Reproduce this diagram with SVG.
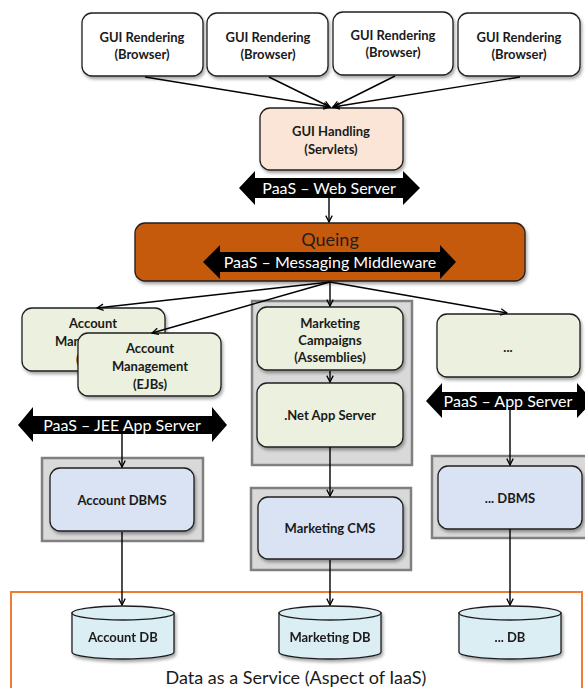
<svg xmlns="http://www.w3.org/2000/svg" width="585" height="688" viewBox="0 0 585 688">
<defs>
<filter id="sh" x="-10%" y="-10%" width="130%" height="140%">
<feDropShadow dx="1.5" dy="2.5" stdDeviation="1.5" flood-color="#000" flood-opacity="0.35"/>
</filter>
<marker id="arr" viewBox="0 0 10 10" refX="9" refY="5" markerWidth="8" markerHeight="8" orient="auto" markerUnits="userSpaceOnUse">
<path d="M1,1 L9,5 L1,9" fill="none" stroke="#000" stroke-width="1.6"/>
</marker>
</defs>
<style>
.box{stroke:#1f1f1f;stroke-width:1.3;filter:url(#sh)}
.w{fill:#ffffff}
.peach{fill:#fbe5d6}
.green{fill:#ebf1de}
.blue{fill:#dae3f3}
.cyl{fill:#daeef3;stroke:#1f1f1f;stroke-width:1.3}
.cont{fill:#d9d9d9;stroke:#808080;stroke-width:2.5}
.t{font-family:Lato,"Liberation Sans",sans-serif;font-weight:bold;font-size:13px;fill:#1a1a1a;text-anchor:middle}
.bn{fill:#000}
.bt{font-family:Lato,"Liberation Sans",sans-serif;font-size:16px;fill:#fff;text-anchor:middle}
.ln{stroke:#000;stroke-width:1.4;fill:none}
</style>

<g id="gui1"><rect class="box w" x="82" y="13" width="121" height="63" rx="10"/><text class="t" x="142" y="41.5">GUI Rendering</text><text class="t" x="142" y="58.5">(Browser)</text></g>
<g id="gui2"><rect class="box w" x="207" y="13" width="121" height="63" rx="10"/><text class="t" x="268" y="41.5">GUI Rendering</text><text class="t" x="268" y="58.5">(Browser)</text></g>
<g id="gui3"><rect class="box w" x="333" y="12" width="120" height="63" rx="10"/><text class="t" x="393" y="40">GUI Rendering</text><text class="t" x="393" y="57">(Browser)</text></g>
<g id="gui4"><rect class="box w" x="458" y="13" width="122" height="63" rx="10"/><text class="t" x="519" y="41.5">GUI Rendering</text><text class="t" x="519" y="58.5">(Browser)</text></g>

<g id="guihandling"><rect class="box peach" x="260" y="108" width="143" height="62" rx="10"/><text class="t" x="331" y="136">GUI Handling</text><text class="t" x="331" y="153.5">(Servlets)</text></g>

<g id="webserver"><polygon class="bn" points="239,188 255,171 255,178 403,178 403,171 420,188 403,205 403,198 255,198 255,205"/><text class="bt" x="329" y="193.5">PaaS – Web Server</text></g>

<g id="queing"><rect class="box" x="135" y="223" width="390" height="58" rx="10" fill="#c55a11"/><text x="330" y="245.5" font-family="Lato,'Liberation Sans',sans-serif" font-size="18" fill="#1f1f1f" text-anchor="middle">Queing</text>
<polygon class="bn" points="203,262 220,245 220,252 440,252 440,245 456,262 440,279 440,272 220,272 220,279"/><text class="bt" x="330" y="268">PaaS – Messaging Middleware</text></g>

<g id="acct-back"><rect class="box green" x="22" y="308" width="143" height="63" rx="10"/><text class="t" x="93" y="327.5">Account</text><text class="t" x="93" y="345.5">Management</text><text class="t" x="93" y="363.5">(EJBs)</text></g>
<g id="acct-front"><rect class="box green" x="78" y="333" width="143" height="63" rx="10"/><text class="t" x="150" y="352.5">Account</text><text class="t" x="150" y="370.5">Management</text><text class="t" x="150" y="388.5">(EJBs)</text></g>

<g id="jee"><polygon class="bn" points="18,425 33,407 33,416 212,416 212,407 227,425 212,442 212,434 33,434 33,442"/><text class="bt" x="122" y="431">PaaS – JEE App Server</text></g>

<g id="acctdbms"><rect class="cont" x="42" y="458" width="161" height="83"/><rect class="box blue" x="50" y="468" width="144" height="63" rx="10"/><text class="t" x="122" y="504.5">Account DBMS</text></g>

<g id="marketing"><rect class="cont" x="252" y="301" width="160" height="164"/>
<rect class="box green" x="257" y="307" width="146" height="63" rx="10"/><text class="t" x="330" y="328">Marketing</text><text class="t" x="330" y="345">Campaigns</text><text class="t" x="330" y="362">(Assemblies)</text>
<rect class="box green" x="257" y="383" width="146" height="64" rx="10"/><text class="t" x="330" y="420">.Net App Server</text></g>

<g id="mktcms"><rect class="cont" x="251" y="488" width="160" height="82"/><rect class="box blue" x="258" y="497" width="145" height="62" rx="10"/><text class="t" x="330" y="533">Marketing CMS</text></g>

<g id="other"><rect class="box green" x="437" y="314" width="143" height="63" rx="10"/><text class="t" x="508" y="352">...</text></g>

<g id="appserver"><polygon class="bn" points="426,401 442,383 442,392 577,392 577,383 593,401 577,418 577,410 442,410 442,418"/><text class="bt" x="508" y="407">PaaS – App Server</text></g>

<g id="otherdbms"><rect class="cont" x="432" y="456" width="160" height="82"/><rect class="box blue" x="438" y="466" width="144" height="63" rx="10"/><text class="t" x="510" y="502.5">... DBMS</text></g>

<g id="daas"><rect x="11" y="592" width="571" height="100" fill="none" stroke="#ed7d31" stroke-width="2"/><text x="296" y="684" font-family="Lato,'Liberation Sans',sans-serif" font-size="18" fill="#1a1a1a" text-anchor="middle">Data as a Service (Aspect of IaaS)</text></g>

<g id="accountdb" filter="url(#sh)"><path class="cyl" d="M72,613 L72,652 A51,7 0 0 0 174,652 L174,613 Z"/><ellipse class="cyl" cx="123" cy="613" rx="51" ry="7"/><text class="t" x="123" y="641.5">Account DB</text></g>
<g id="marketingdb" filter="url(#sh)"><path class="cyl" d="M279,613 L279,652 A51,7 0 0 0 381,652 L381,613 Z"/><ellipse class="cyl" cx="330" cy="613" rx="51" ry="7"/><text class="t" x="330" y="641.5">Marketing DB</text></g>
<g id="otherdb" filter="url(#sh)"><path class="cyl" d="M459,613 L459,652 A51,7 0 0 0 561,652 L561,613 Z"/><ellipse class="cyl" cx="510" cy="613" rx="51" ry="7"/><text class="t" x="510" y="641.5">... DB</text></g>

<g id="connectors">
<line class="ln" x1="145" y1="77" x2="330" y2="107" marker-end="url(#arr)"/>
<line class="ln" x1="269" y1="77" x2="330" y2="107" marker-end="url(#arr)"/>
<line class="ln" x1="395" y1="76" x2="333" y2="107" marker-end="url(#arr)"/>
<line class="ln" x1="520" y1="77" x2="333" y2="107" marker-end="url(#arr)"/>
<line class="ln" x1="329" y1="198" x2="329" y2="222" marker-end="url(#arr)"/>
<line class="ln" x1="330" y1="282" x2="97" y2="308" marker-end="url(#arr)"/>
<line class="ln" x1="330" y1="282" x2="152" y2="333" marker-end="url(#arr)"/>
<line class="ln" x1="330" y1="282" x2="330" y2="306" marker-end="url(#arr)"/>
<line class="ln" x1="330" y1="282" x2="507" y2="313" marker-end="url(#arr)"/>
<line class="ln" x1="330" y1="371" x2="330" y2="382" marker-end="url(#arr)"/>
<line class="ln" x1="122" y1="434" x2="122" y2="467" marker-end="url(#arr)"/>
<line class="ln" x1="330" y1="447" x2="330" y2="496" marker-end="url(#arr)"/>
<line class="ln" x1="510" y1="410" x2="510" y2="465" marker-end="url(#arr)"/>
<line class="ln" x1="122" y1="532" x2="122" y2="605" marker-end="url(#arr)"/>
<line class="ln" x1="330" y1="560" x2="330" y2="605" marker-end="url(#arr)"/>
<line class="ln" x1="510" y1="529" x2="510" y2="605" marker-end="url(#arr)"/>
</g>
</svg>
